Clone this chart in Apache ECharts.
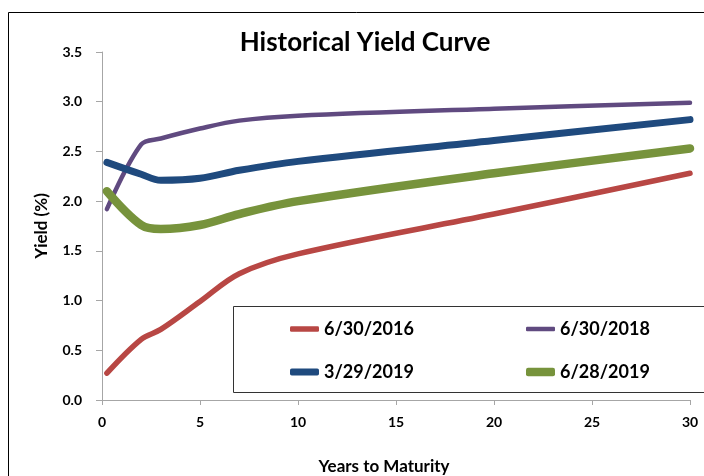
<!DOCTYPE html>
<html>
<head>
<meta charset="utf-8">
<script src="https://cdn.jsdelivr.net/npm/echarts@6/dist/echarts.min.js"></script>
<style>html,body{margin:0;padding:0;background:#fff}#c{width:704px;height:476px}</style>
</head>
<body>
<div id="c"></div>
<script>
const maturities = [0.25, 2, 3, 5, 7, 10, 20, 30];
const seriesNames = ['6/30/2016', '6/30/2018', '3/29/2019', '6/28/2019'];
const y2016 = [0.27, 0.61, 0.71, 0.99, 1.27, 1.47, 1.87, 2.28];
const y2018 = [1.92, 2.57, 2.63, 2.73, 2.81, 2.86, 2.93, 2.99];
const y2019a = [2.39, 2.27, 2.21, 2.23, 2.31, 2.40, 2.61, 2.82];
const y2019b = [2.10, 1.76, 1.72, 1.76, 1.87, 2.00, 2.28, 2.53];
const xTicks = [0, 5, 10, 15, 20, 25, 30];
const yTicks = [0, 0.5, 1.0, 1.5, 2.0, 2.5, 3.0, 3.5];

const FONT = 'Lato';
const colors = ['#B84744', '#604A80', '#1F4A7E', '#77933C'];
const widths = [5.5, 4.5, 7, 8.5];
const values = [y2016, y2018, y2019a, y2019b];
// legend placement per series: [left, top]
const legendPos = [[285, 315], [521, 315], [285, 358], [521, 358]];

const chart = echarts.init(document.getElementById('c'), null, {renderer: 'canvas'});
const series = seriesNames.map((n, i) => ({
  name: n,
  type: 'line',
  data: maturities.map((m, j) => [m, values[i][j]]),
  smooth: 0.35,
  showSymbol: false,
  symbol: 'none',
  color: colors[i],
  lineStyle: {color: colors[i], width: widths[i], cap: 'round', join: 'round'},
  emphasis: {disabled: true},
  z: 2
}));
const legendText = {fontFamily: FONT, fontWeight: 'bold', fontSize: 18, color: '#000'};
const legends = seriesNames.map((n, i) => ({
  data: [{name: n, icon: 'roundRect'}],
  left: legendPos[i][0], top: legendPos[i][1], z: 10,
  itemWidth: 29, itemHeight: widths[i],
  itemStyle: {color: colors[i]},
  textStyle: legendText, selectedMode: false
}));
chart.setOption({
  animation: false,
  backgroundColor: '#fff',
  title: {
    text: 'Historical Yield Curve',
    left: 360, top: 25, textAlign: 'center',
    textStyle: {fontFamily: FONT, fontWeight: 'bold', fontSize: 26, color: '#000'}
  },
  grid: {left: 102, right: 14, top: 52, bottom: 76, containLabel: false, outerBoundsMode: 'none'},
  xAxis: {
    type: 'value', min: xTicks[0], max: xTicks[xTicks.length - 1], interval: 5,
    name: 'Years to Maturity', nameLocation: 'middle', nameGap: 58,
    nameTextStyle: {fontFamily: FONT, fontWeight: 'bold', fontSize: 17, color: '#000', padding: [0, 24, 0, 0]},
    axisLine: {lineStyle: {color: '#A6A6A6', width: 1}},
    axisTick: {show: true, length: 5, lineStyle: {color: '#A6A6A6'}},
    axisLabel: {margin: 15, fontFamily: FONT, fontWeight: 'bold', fontSize: 14, color: '#000'},
    splitLine: {show: false}
  },
  yAxis: {
    type: 'value', min: yTicks[0], max: yTicks[yTicks.length - 1], interval: 0.5,
    name: 'Yield (%)', nameLocation: 'middle', nameGap: 52, nameRotate: 90,
    nameTextStyle: {fontFamily: FONT, fontWeight: 'bold', fontSize: 17, color: '#000'},
    axisLine: {show: true, lineStyle: {color: '#A6A6A6', width: 1}},
    axisTick: {show: true, inside: false, length: 6, lineStyle: {color: '#A6A6A6'}},
    axisLabel: {margin: 20, fontFamily: FONT, fontWeight: 'bold', fontSize: 14, color: '#000',
      formatter: v => v.toFixed(1)},
    splitLine: {show: false}
  },
  legend: legends,
  graphic: [
    {type: 'rect', shape: {x: 8.5, y: 12.5, width: 800, height: 600},
     style: {fill: null, stroke: '#000', lineWidth: 1}, z: 0, silent: true},
    {type: 'rect', shape: {x: 233.5, y: 306.5, width: 500, height: 86},
     style: {fill: null, stroke: '#333', lineWidth: 1}, z: 1, silent: true}
  ],
  series: series
});
</script>
</body>
</html>
